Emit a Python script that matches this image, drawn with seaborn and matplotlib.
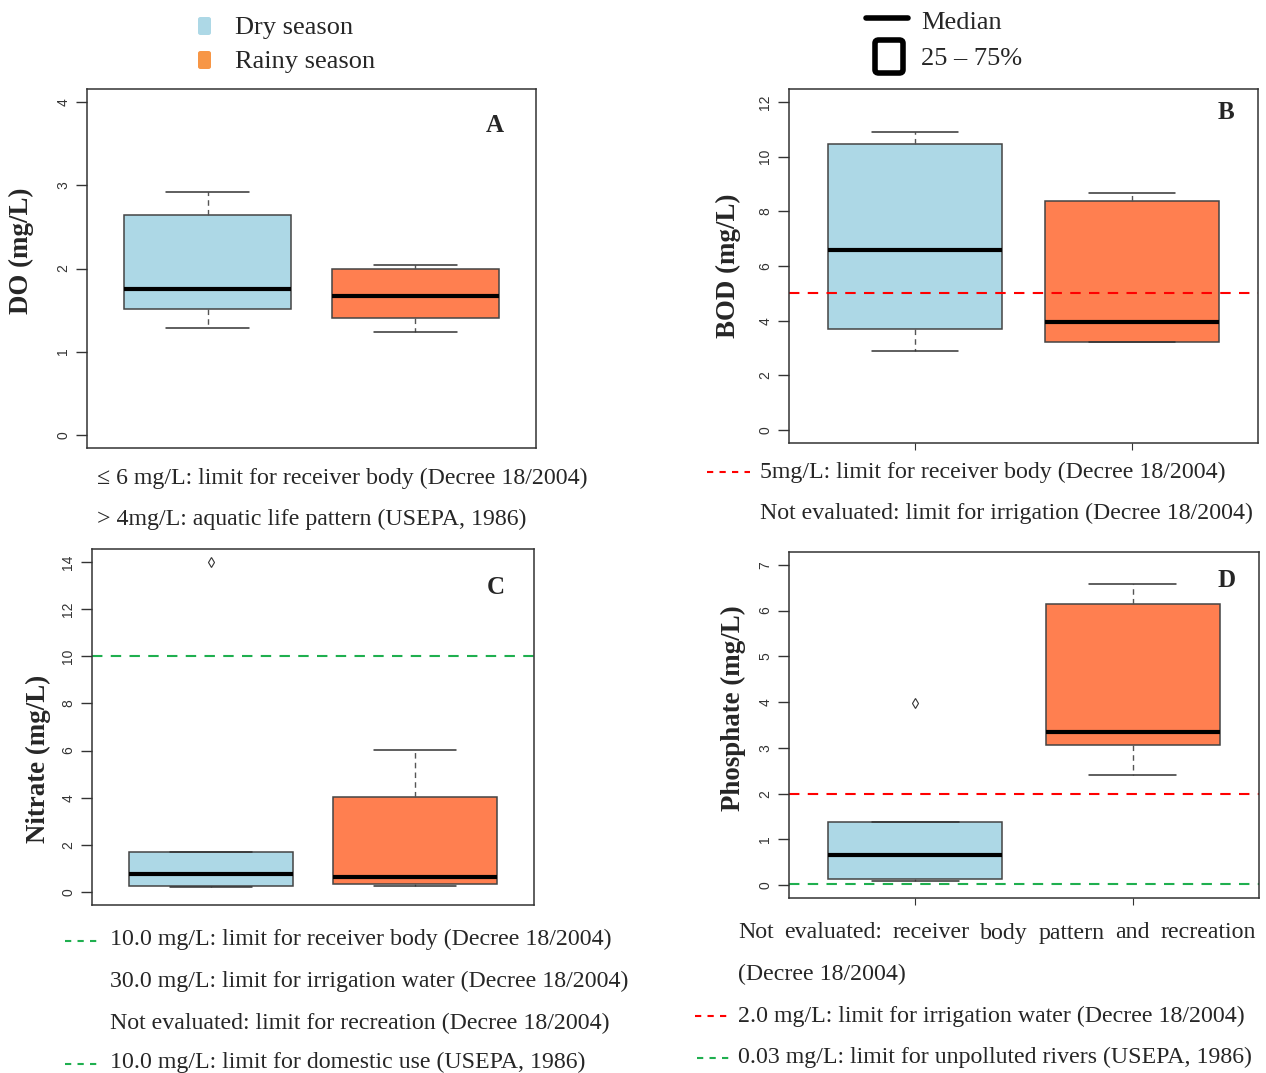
import numpy as np
import pandas as pd
import seaborn as sns
import matplotlib.pyplot as plt
from matplotlib.lines import Line2D
from matplotlib.patches import FancyBboxPatch

# ---- data (min, Q1, median, Q3, max / outlier) ----
seasons = ["Dry season", "Rainy season"]
do_dry = [1.29, 1.51, 1.75, 2.64, 2.92]
do_rainy = [1.24, 1.41, 1.67, 1.99, 2.04]
bod_dry = [2.90, 3.71, 6.57, 10.46, 10.92]
bod_rainy = [3.21, 3.21, 3.96, 8.38, 8.69]
nitrate_dry = [0.20, 0.23, 0.74, 1.70, 14.0]
nitrate_rainy = [0.24, 0.33, 0.64, 4.02, 6.04]
phosphate_dry = [0.09, 0.14, 0.67, 1.38, 3.99]
phosphate_rainy = [2.40, 3.06, 3.34, 6.15, 6.57]

bod_limit = 5.0
nitrate_limit = 10.0
phosphate_irrig = 2.0
phosphate_usepa = 0.03

palette = {"Dry season": "#ADD8E6", "Rainy season": "#FF7F50"}

sns.set_theme(style="white")
plt.rcParams["font.family"] = ["Liberation Serif", "DejaVu Serif"]

W, H = 1266, 1073
CAP = 17.2   # caption font size
DY = 2       # small vertical nudge for the text blocks
fig = plt.figure(figsize=(W / 100, H / 100), dpi=100)


def px_axes(left, right, top, bottom):
    return fig.add_axes([left / W, (H - bottom) / H, (right - left) / W, (bottom - top) / H])


def panel(ax, dry, rainy, ylim, step, ylabel, letter, lab_xy, letter_xy, xticks):
    df = pd.DataFrame({
        "season": [seasons[0]] * len(dry) + [seasons[1]] * len(rainy),
        "value": list(dry) + list(rainy),
    })
    sns.boxplot(
        data=df, x="season", y="value", hue="season", palette=palette,
        order=seasons, hue_order=seasons, legend=False, ax=ax,
        width=0.8, saturation=1, linecolor="#444444", linewidth=1.1,
        whiskerprops=dict(linestyle=(0, (4, 3)), color="#555555", linewidth=1),
        capprops=dict(color="#333333", linewidth=1.1),
        medianprops=dict(color="black", linewidth=3),
        flierprops=dict(marker="d", markerfacecolor="none", markeredgecolor="#333333",
                        markersize=5, markeredgewidth=0.8),
    )
    lo, hi = ylim
    pad = 0.04 * (hi - lo)   # R style axis expansion
    ax.set_ylim(lo - pad, hi + pad)
    ax.set_xlim(-0.58, 1.58)
    ticks = np.arange(lo, hi + step / 2, step)
    ax.set_yticks(ticks)
    ax.set_yticklabels([f"{v:g}" for v in ticks],
                       family="Liberation Sans", fontsize=10, color="#333333")
    for lab in ax.get_yticklabels():
        lab.set_rotation(90)
        lab.set_va("center")
        lab.set_ha("right")
    ax.tick_params(axis="y", length=8, width=1, color="#333333", pad=4, left=True)
    if xticks:
        ax.set_xticks([0, 1])
        ax.set_xticklabels([])
        ax.tick_params(axis="x", length=5, width=0.8, color="#333333", bottom=True)
    else:
        ax.set_xticks([])
    ax.set_xlabel("")
    ax.set_ylabel("")
    for s in ax.spines.values():
        s.set_color("#333333")
        s.set_linewidth(1.1)
    ax.text(lab_xy[0], lab_xy[1], ylabel, transform=ax.transAxes, rotation=90,
            ha="center", va="center", fontsize=19.4, fontweight="bold")
    ax.text(letter_xy[0], letter_xy[1], letter, transform=ax.transAxes,
            ha="center", va="center", fontsize=18, fontweight="bold")


axA = px_axes(87, 536, 89, 448)
panel(axA, do_dry, do_rainy, (0, 4), 1, "DO (mg/L)", "A", (-0.145, 0.55), (0.909, 0.897), False)

axB = px_axes(789, 1258, 89, 443)
panel(axB, bod_dry, bod_rainy, (0, 12), 2, "BOD (mg/L)", "B", (-0.13, 0.50), (0.932, 0.935), True)
axB.axhline(bod_limit, color="#FF0000", lw=1.5, ls=(0, (5, 4)))

axC = px_axes(92, 534, 549, 905)
panel(axC, nitrate_dry, nitrate_rainy, (0, 14), 2, "Nitrate (mg/L)", "C", (-0.122, 0.41), (0.914, 0.893), False)
axC.axhline(nitrate_limit, color="#1FAF4F", lw=1.5, ls=(0, (5, 4)))

axD = px_axes(789, 1259, 552, 898)
panel(axD, phosphate_dry, phosphate_rainy, (0, 7), 1, "Phosphate (mg/L)", "D", (-0.119, 0.55), (0.93, 0.919), True)
axD.axhline(phosphate_irrig, color="#FF0000", lw=1.5, ls=(0, (5, 4)))
axD.axhline(phosphate_usepa, color="#1FAF4F", lw=1.5, ls=(0, (5, 4)))


# ---- helpers in pixel coordinates of the figure ----
def ftext(x, y, s, size=CAP, **kw):
    return fig.text(x / W, 1 - (y + DY) / H, s, fontsize=size, va="center", ha="left", **kw)


def fdash(x0, x1, y, color):
    fig.add_artist(Line2D([x0 / W, x1 / W], [1 - (y + DY) / H, 1 - (y + DY) / H], color=color,
                          lw=1.5, ls=(0, (3, 3)), transform=fig.transFigure))


def justified(x0, x1, y, s):
    # spread the words evenly between x0 and x1, like the justified paragraph
    words = s.split()
    arts = [ftext(x0, y, w) for w in words]
    fig.canvas.draw()
    r = fig.canvas.get_renderer()
    widths = [a.get_window_extent(renderer=r).width for a in arts]
    gap = (x1 - x0 - sum(widths)) / (len(words) - 1)
    x = x0
    for a, w in zip(arts, widths):
        a.set_x(x / W)
        x += w + gap


# top legends
for yy, name, col in [(26, "Dry season", "#ADD8E6"), (60, "Rainy season", "#F79646")]:
    fig.add_artist(FancyBboxPatch((198 / W, 1 - (yy + 9) / H), 13 / W, 18 / H,
                                  boxstyle="round,pad=0,rounding_size=0.002",
                                  transform=fig.transFigure, color=col, lw=0))
    ftext(235, yy, name, size=19)

fig.add_artist(Line2D([866 / W, 908 / W], [1 - 18 / H, 1 - 18 / H], color="black", lw=4,
                      transform=fig.transFigure))
fig.add_artist(FancyBboxPatch((875 / W, 1 - 73 / H), 28 / W, 33 / H,
                              boxstyle="round,pad=0,rounding_size=0.003",
                              transform=fig.transFigure, facecolor="none",
                              edgecolor="black", lw=4))
ftext(921, 21, "Median", size=19)
ftext(921, 57, "25 – 75%", size=19)

# captions under A
ftext(97, 476, "≤ 6 mg/L: limit for receiver body (Decree 18/2004)")
ftext(97, 517, "> 4mg/L: aquatic life pattern (USEPA, 1986)")

# captions under B
fdash(707, 750, 470, "#FF0000")
ftext(760, 470, "5mg/L: limit for receiver body (Decree 18/2004)")
ftext(760, 511, "Not evaluated: limit for irrigation (Decree 18/2004)")

# captions under C
fdash(65, 100, 939, "#1FAF4F")
ftext(110, 937, "10.0 mg/L: limit for receiver body (Decree 18/2004)")
ftext(110, 979, "30.0 mg/L: limit for irrigation water (Decree 18/2004)")
ftext(110, 1021, "Not evaluated: limit for recreation (Decree 18/2004)")
fdash(65, 100, 1062, "#1FAF4F")
ftext(110, 1060, "10.0 mg/L: limit for domestic use (USEPA, 1986)")

# captions under D
justified(738, 1256, 931, "Not evaluated: receiver body pattern and recreation")
ftext(738, 972, "(Decree 18/2004)")
fdash(695, 731, 1014, "#FF0000")
ftext(738, 1014, "2.0 mg/L: limit for irrigation water (Decree 18/2004)")
fdash(697, 733, 1056, "#1FAF4F")
ftext(738, 1055, "0.03 mg/L: limit for unpolluted rivers (USEPA, 1986)")

fig.savefig("out.png", dpi=100)
